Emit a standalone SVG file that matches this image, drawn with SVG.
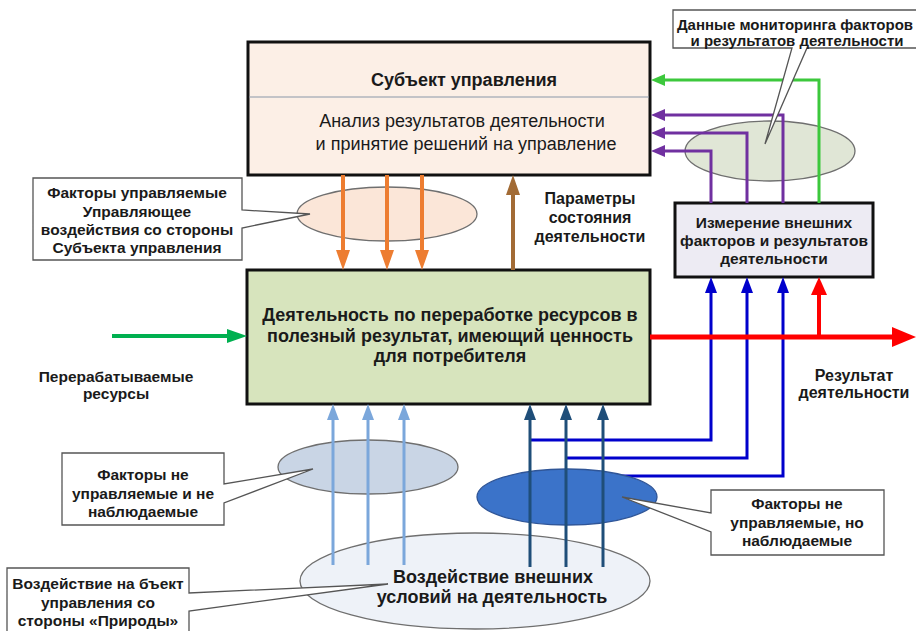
<svg xmlns="http://www.w3.org/2000/svg" width="916" height="631" viewBox="0 0 916 631">
  <style>
    text { font-family: "Liberation Sans", Arial, sans-serif; fill: #1a1a1a; }
    .b { font-weight: bold; }
    .c { text-anchor: middle; }
    .box { stroke: #111; stroke-width: 3; }
    .ell { stroke: #6f6f6f; stroke-width: 1.3; }
    .call { fill: #fff; stroke: #555; stroke-width: 1.3; stroke-linejoin: miter; }
    .ln { fill: none; }
  </style>
  <defs>
    <marker id="mOr" markerUnits="userSpaceOnUse" markerWidth="20" markerHeight="14" refX="10" refY="7" orient="auto"><path d="M0,0 L20,7 L0,14 Z" fill="#ED7D31"/></marker>
    <marker id="mBr" markerUnits="userSpaceOnUse" markerWidth="20" markerHeight="14" refX="10" refY="7" orient="auto"><path d="M0,0 L20,7 L0,14 Z" fill="#A26B35"/></marker>
    <marker id="mGi" markerUnits="userSpaceOnUse" markerWidth="20" markerHeight="14" refX="10" refY="7" orient="auto"><path d="M0,0 L20,7 L0,14 Z" fill="#00B050"/></marker>
    <marker id="mRd" markerUnits="userSpaceOnUse" markerWidth="24" markerHeight="20" refX="12" refY="10" orient="auto"><path d="M0,0 L24,10 L0,20 Z" fill="#FF0000"/></marker>
    <marker id="mRs" markerUnits="userSpaceOnUse" markerWidth="18" markerHeight="16" refX="9" refY="8" orient="auto"><path d="M0,0 L18,8 L0,16 Z" fill="#FF0000"/></marker>
    <marker id="mPu" markerUnits="userSpaceOnUse" markerWidth="14" markerHeight="12" refX="7" refY="6" orient="auto"><path d="M0,0 L14,6 L0,12 Z" fill="#7030A0"/></marker>
    <marker id="mGm" markerUnits="userSpaceOnUse" markerWidth="14" markerHeight="12" refX="7" refY="6" orient="auto"><path d="M0,0 L14,6 L0,12 Z" fill="#3CC83C"/></marker>
    <marker id="mBl" markerUnits="userSpaceOnUse" markerWidth="16" markerHeight="12" refX="8" refY="6" orient="auto"><path d="M0,0 L16,6 L0,12 Z" fill="#0000CC"/></marker>
    <marker id="mNv" markerUnits="userSpaceOnUse" markerWidth="16" markerHeight="12" refX="8" refY="6" orient="auto"><path d="M0,0 L16,6 L0,12 Z" fill="#1F4E79"/></marker>
    <marker id="mLb" markerUnits="userSpaceOnUse" markerWidth="16" markerHeight="12" refX="8" refY="6" orient="auto"><path d="M0,0 L16,6 L0,12 Z" fill="#7BA7DB"/></marker>
  </defs>

  <rect width="916" height="631" fill="#fff"/>

  <!-- factor ellipses -->
  <g id="ell-control"><ellipse class="ell" cx="387" cy="214" rx="90" ry="27" fill="#FBE6D8"/></g>
  <g id="ell-monitor"><ellipse class="ell" cx="770" cy="151" rx="85" ry="30" fill="#E0E6D6"/></g>
  <g id="ell-unobserved"><ellipse class="ell" cx="368" cy="467" rx="90" ry="27" fill="#C9D5E5"/></g>
  <g id="ell-environment"><ellipse class="ell" cx="475" cy="581" rx="175" ry="48" fill="#EEF2F8"/></g>

  <!-- main blocks -->
  <g id="subject">
    <rect class="box" x="248" y="42" width="402" height="133" fill="#FCEFE6"/>
    <line x1="249" y1="97" x2="649" y2="97" stroke="#8a97a8" stroke-width="1.2"/>
    <text class="b c" x="464" y="86" font-size="18">Субъект управления</text>
    <text class="c" x="462" y="127" font-size="18">Анализ результатов деятельности</text>
    <text class="c" x="466" y="150" font-size="18">и принятие решений на управление</text>
  </g>
  <g id="activity">
    <rect class="box" x="247" y="270" width="403" height="134" fill="#D7E4BD"/>
    <text class="b c" x="450" y="321" font-size="18">Деятельность по переработке ресурсов в</text>
    <text class="b c" x="450" y="342" font-size="18">полезный результат, имеющий ценность</text>
    <text class="b c" x="450" y="362" font-size="18">для потребителя</text>
  </g>
  <g id="measurement">
    <rect class="box" x="675" y="203" width="198" height="74" fill="#EDEBF3"/>
    <text class="b c" x="774" y="228" font-size="15.5">Измерение внешних</text>
    <text class="b c" x="774" y="246" font-size="15.5">факторов и результатов</text>
    <text class="b c" x="774" y="264" font-size="15.5">деятельности</text>
  </g>

  <!-- connectors -->
  <g id="connectors" class="ln">
    <!-- blue feeds from observed factors to measurement -->
    <path d="M530,440 H711 V285" stroke="#0000CC" stroke-width="3" marker-end="url(#mBl)"/>
    <path d="M566,458 H747 V285" stroke="#0000CC" stroke-width="3" marker-end="url(#mBl)"/>
    <path d="M621,476 H783 V285" stroke="#0000CC" stroke-width="3" marker-end="url(#mBl)"/>
    <!-- monitoring data back to the subject -->
    <path d="M711,203 V151 H658" stroke="#7030A0" stroke-width="3" marker-end="url(#mPu)"/>
    <path d="M747,203 V133 H658" stroke="#7030A0" stroke-width="3" marker-end="url(#mPu)"/>
    <path d="M783,203 V115 H658" stroke="#7030A0" stroke-width="3" marker-end="url(#mPu)"/>
    <path d="M819,203 V80 H658" stroke="#3CC83C" stroke-width="3" marker-end="url(#mGm)"/>
    <!-- control actions -->
    <line x1="343" y1="175" x2="343" y2="260" stroke="#ED7D31" stroke-width="4" marker-end="url(#mOr)"/>
    <line x1="387" y1="175" x2="387" y2="260" stroke="#ED7D31" stroke-width="4" marker-end="url(#mOr)"/>
    <line x1="422" y1="175" x2="422" y2="260" stroke="#ED7D31" stroke-width="4" marker-end="url(#mOr)"/>
    <!-- state parameters -->
    <line x1="513" y1="270" x2="513" y2="185" stroke="#A26B35" stroke-width="4" marker-end="url(#mBr)"/>
    <!-- resources in -->
    <line x1="112" y1="336" x2="237" y2="336" stroke="#00B050" stroke-width="4" marker-end="url(#mGi)"/>
    <!-- result out -->
    <line x1="650" y1="337" x2="904" y2="337" stroke="#FF0000" stroke-width="5" marker-end="url(#mRd)"/>
    <line x1="819" y1="337" x2="819" y2="286" stroke="#FF0000" stroke-width="4" marker-end="url(#mRs)"/>
    <!-- unobserved influences -->
    <line x1="333" y1="565" x2="333" y2="412" stroke="#7BA7DB" stroke-width="3" marker-end="url(#mLb)"/>
    <line x1="368" y1="565" x2="368" y2="412" stroke="#7BA7DB" stroke-width="3" marker-end="url(#mLb)"/>
    <line x1="404" y1="565" x2="404" y2="412" stroke="#7BA7DB" stroke-width="3" marker-end="url(#mLb)"/>
  </g>

  <!-- observed factors ellipse sits over the third feed -->
  <g id="ell-observed"><ellipse cx="567" cy="497" rx="90" ry="28" fill="#3B73C9" stroke="#2F5597" stroke-width="1.3"/></g>

  <g id="connectors-observed" class="ln">
    <line x1="530" y1="567" x2="530" y2="412" stroke="#1F4E79" stroke-width="3" marker-end="url(#mNv)"/>
    <line x1="566" y1="567" x2="566" y2="412" stroke="#1F4E79" stroke-width="3" marker-end="url(#mNv)"/>
    <line x1="603" y1="567" x2="603" y2="412" stroke="#1F4E79" stroke-width="3" marker-end="url(#mNv)"/>
  </g>

  <!-- free labels -->
  <g id="lbl-params">
    <text class="b c" x="590" y="204" font-size="16">Параметры</text>
    <text class="b c" x="590" y="223" font-size="16">состояния</text>
    <text class="b c" x="590" y="242" font-size="16">деятельности</text>
  </g>
  <g id="lbl-resources">
    <text class="b c" x="116" y="382" font-size="15.5">Перерабатываемые</text>
    <text class="b c" x="116" y="399" font-size="15.5">ресурсы</text>
  </g>
  <g id="lbl-result">
    <text class="b c" x="854" y="381" font-size="16">Результат</text>
    <text class="b c" x="854" y="398" font-size="16">деятельности</text>
  </g>
  <g id="lbl-environment">
    <text class="b c" x="493" y="583" font-size="18">Воздействие внешних</text>
    <text class="b c" x="492" y="603" font-size="18">условий на деятельность</text>
  </g>

  <!-- callouts -->
  <g id="call-monitoring">
    <path class="call" d="M673,10 H935 V48 H807 L765,144 L792,48 H673 Z"/>
    <text class="b c" x="795" y="30" font-size="15">Данные мониторинга факторов</text>
    <text class="b c" x="797" y="46" font-size="15">и результатов деятельности</text>
  </g>
  <g id="call-controlled">
    <path class="call" d="M33,178 H242 V210 L310,214 L242,228 V260 H33 Z"/>
    <text class="b c" x="137" y="198" font-size="15.5">Факторы управляемые</text>
    <text class="b c" x="137" y="217" font-size="15.5">Управляющее</text>
    <text class="b c" x="137" y="235" font-size="15.5">воздействия со стороны</text>
    <text class="b c" x="137" y="253" font-size="15.5">Субъекта управления</text>
  </g>
  <g id="call-unobserved">
    <path class="call" d="M62,453 H224 V484 L313,469 L224,503 V525 H62 Z"/>
    <text class="b c" x="143" y="480" font-size="15.5">Факторы не</text>
    <text class="b c" x="143" y="499" font-size="15.5">управляемые и не</text>
    <text class="b c" x="143" y="517" font-size="15.5">наблюдаемые</text>
  </g>
  <g id="call-observed">
    <path class="call" d="M711,490 H884 V555 H711 V532 L622,497 L711,513 Z"/>
    <text class="b c" x="797" y="509" font-size="15.5">Факторы не</text>
    <text class="b c" x="797" y="528" font-size="15.5">управляемые, но</text>
    <text class="b c" x="797" y="546" font-size="15.5">наблюдаемые</text>
  </g>
  <g id="call-nature">
    <path class="call" d="M7,568 H189 V593 L388,584 L189,611 V633 H7 Z"/>
    <text class="b c" x="98" y="589" font-size="15.5">Воздействие на бъект</text>
    <text class="b c" x="98" y="608" font-size="15.5">управления со</text>
    <text class="b c" x="98" y="626" font-size="15.5">стороны «Природы»</text>
  </g>
</svg>
